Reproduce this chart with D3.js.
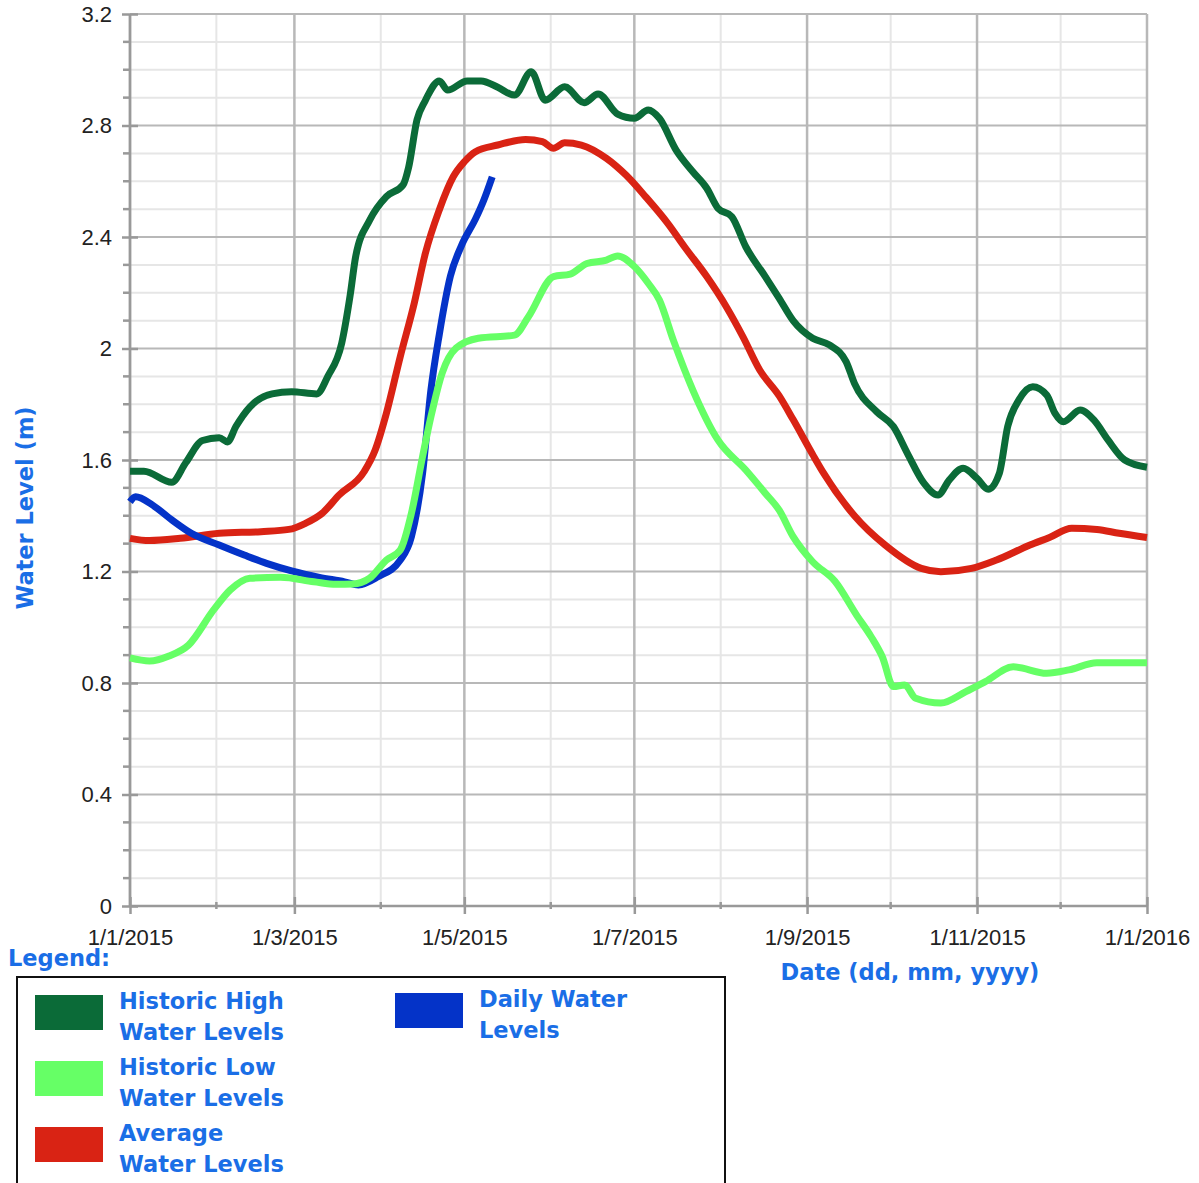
<!DOCTYPE html>
<html>
<head>
<meta charset="utf-8">
<script src="https://cdn.jsdelivr.net/npm/d3@7"></script>
<style>
  body { margin: 0; background: #fff; }
  svg { display: block; }
  .lbl { font-family: "DejaVu Sans", Verdana, sans-serif; font-weight: bold; fill: #1a6ee6; }
  .tick text { font-family: "Liberation Sans", Arial, sans-serif; fill: #222; }
</style>
</head>
<body>
<div id="chart"></div>
<script>
var WIDTH = 1199;
var HEIGHT = 1183;

// historic high water levels
var highDates = ["2015-01-01","2015-01-06","2015-01-16","2015-01-21","2015-01-27","2015-02-02","2015-02-05","2015-02-08",
  "2015-02-13","2015-02-21","2015-02-28","2015-03-09","2015-03-13","2015-03-18","2015-03-21","2015-03-23","2015-03-28",
  "2015-04-03","2015-04-09","2015-04-11","2015-04-14","2015-04-17","2015-04-18","2015-04-22","2015-04-25","2015-05-02",
  "2015-05-07","2015-05-13","2015-05-19","2015-05-25","2015-05-30","2015-06-06","2015-06-13","2015-06-18","2015-06-25",
  "2015-07-01","2015-07-06","2015-07-10","2015-07-16","2015-07-22","2015-07-27","2015-07-31","2015-08-05","2015-08-10",
  "2015-08-17","2015-08-22","2015-08-27","2015-09-03","2015-09-09","2015-09-15","2015-09-18","2015-09-26","2015-10-02",
  "2015-10-07","2015-10-13","2015-10-18","2015-10-22","2015-10-27","2015-11-01","2015-11-05","2015-11-09","2015-11-12",
  "2015-11-16","2015-11-21","2015-11-26","2015-11-29","2015-12-02","2015-12-08","2015-12-13","2015-12-18","2015-12-24",
  "2016-01-01"];
var highValues = [1.56,1.56,1.52,1.59,1.67,1.68,1.665,1.72,
  1.79,1.837,1.845,1.837,1.9,2.02,2.19,2.33,2.46,
  2.545,2.587,2.65,2.82,2.89,2.91,2.96,2.927,2.96,
  2.96,2.937,2.909,2.993,2.891,2.939,2.882,2.913,2.841,
  2.826,2.856,2.826,2.712,2.634,2.575,2.503,2.473,2.365,
  2.258,2.18,2.1,2.037,2.013,1.953,1.875,1.773,1.72,
  1.624,1.516,1.474,1.528,1.57,1.534,1.495,1.552,1.72,
  1.815,1.863,1.833,1.767,1.737,1.779,1.743,1.672,1.6,
  1.574];

// historic low water levels
var lowDates = ["2015-01-01","2015-01-08","2015-01-15","2015-01-22","2015-01-31","2015-02-06","2015-02-13","2015-02-24",
  "2015-03-08","2015-03-16","2015-03-22","2015-03-28","2015-04-03","2015-04-08","2015-04-12","2015-04-16","2015-04-19",
  "2015-04-23","2015-04-28","2015-05-06","2015-05-19","2015-05-24","2015-06-02","2015-06-08","2015-06-14","2015-06-21",
  "2015-06-25","2015-07-01","2015-07-06","2015-07-10","2015-07-15","2015-07-22","2015-07-31","2015-08-10","2015-08-17",
  "2015-08-22","2015-08-27","2015-09-03","2015-09-11","2015-09-19","2015-09-24","2015-09-28","2015-10-02","2015-10-06",
  "2015-10-10","2015-10-19","2015-10-28","2015-11-04","2015-11-14","2015-11-26","2015-12-04","2015-12-14","2016-01-01"];
var lowValues = [0.89,0.879,0.897,0.936,1.062,1.134,1.176,1.179,
  1.163,1.154,1.155,1.176,1.241,1.277,1.409,1.612,1.755,
  1.911,2.001,2.037,2.048,2.114,2.258,2.267,2.305,2.317,
  2.332,2.294,2.234,2.174,2.03,1.851,1.672,1.564,1.481,
  1.42,1.325,1.235,1.165,1.04,0.966,0.894,0.787,0.793,
  0.745,0.728,0.769,0.805,0.858,0.835,0.847,0.873,0.873];

// average water levels
var avgDates = ["2015-01-01","2015-01-08","2015-01-19","2015-02-02","2015-02-17","2015-02-27","2015-03-05","2015-03-11",
  "2015-03-17","2015-03-26","2015-03-30","2015-04-03","2015-04-08","2015-04-13","2015-04-17","2015-04-22","2015-04-27",
  "2015-05-01","2015-05-05","2015-05-13","2015-05-23","2015-05-29","2015-06-02","2015-06-06","2015-06-12","2015-06-21",
  "2015-06-28","2015-07-05","2015-07-13","2015-07-19","2015-07-27","2015-08-03","2015-08-09","2015-08-15","2015-08-22",
  "2015-08-27","2015-09-03","2015-09-07","2015-09-18","2015-09-29","2015-10-12","2015-10-19","2015-10-30","2015-11-08",
  "2015-11-20","2015-11-27","2015-12-05","2015-12-14","2015-12-22","2016-01-01"];
var avgValues = [1.319,1.311,1.319,1.337,1.343,1.351,1.373,1.409,
  1.474,1.558,1.636,1.767,1.971,2.162,2.341,2.497,2.616,
  2.67,2.706,2.73,2.75,2.742,2.718,2.738,2.73,2.682,
  2.622,2.545,2.449,2.365,2.258,2.15,2.042,1.923,1.83,
  1.745,1.62,1.552,1.4,1.295,1.211,1.199,1.211,1.241,
  1.295,1.322,1.355,1.351,1.337,1.322];

// daily water levels
var dailyDates = ["2015-01-01","2015-01-03","2015-01-09","2015-01-16","2015-01-23","2015-02-02","2015-02-11","2015-02-19",
  "2015-02-28","2015-03-10","2015-03-19","2015-03-24","2015-03-31","2015-04-08","2015-04-12","2015-04-16","2015-04-19",
  "2015-04-22","2015-04-26","2015-04-30","2015-05-05","2015-05-08","2015-05-11"];
var dailyValues = [1.45,1.468,1.439,1.385,1.337,1.295,1.259,1.229,
  1.202,1.179,1.163,1.152,1.181,1.241,1.325,1.552,1.851,
  2.05,2.26,2.37,2.465,2.533,2.616];

var yMajorTicks = [0, 0.4, 0.8, 1.2, 1.6, 2, 2.4, 2.8, 3.2];
var xMajorTickLabels = ["1/1/2015","1/3/2015","1/5/2015","1/7/2015","1/9/2015","1/11/2015","1/1/2016"];

var legendItems = [
  { lines: ["Historic High", "Water Levels"], color: "#0b6b38" },
  { lines: ["Historic Low", "Water Levels"], color: "#66ff66" },
  { lines: ["Average", "Water Levels"], color: "#d92314" },
  { lines: ["Daily Water", "Levels"], color: "#0433c8" }
];

var parseDate = d3.timeParse("%Y-%m-%d");
var parseTick = d3.timeParse("%-d/%-m/%Y");

function toPoints(dates, values) {
    return dates.map((d, i) => ({ date: parseDate(d), value: values[i] }));
}

var SVG = d3.select("#chart").append("svg")
    .attr("width", WIDTH)
    .attr("height", HEIGHT);

var X = d3.scaleTime()
    .domain([parseDate("2015-01-01"), parseDate("2016-01-01")])
    .range([130, 1147]);

var Y = d3.scaleLinear()
    .domain([0, 3.2])
    .range([906, 14]);

// grid lines
var minorY = d3.range(0, 3.25, 0.1).map(d => +d.toFixed(1)).filter(d => yMajorTicks.indexOf(d) < 0);
var months = d3.timeMonth.range(X.domain()[0], X.domain()[1]).concat([X.domain()[1]]);
var majorX = xMajorTickLabels.map(parseTick);
var minorX = months.filter(m => !majorX.some(d => +d === +m));

var grid = SVG.append("g");
grid.selectAll("line.minory").data(minorY).enter().append("line")
    .attr("x1", 130).attr("x2", 1147)
    .attr("y1", d => Y(d)).attr("y2", d => Y(d))
    .attr("stroke", "#e6e6e6").attr("stroke-width", 2);
grid.selectAll("line.minorx").data(minorX).enter().append("line")
    .attr("x1", d => X(d)).attr("x2", d => X(d))
    .attr("y1", 14).attr("y2", 906)
    .attr("stroke", "#e6e6e6").attr("stroke-width", 2);
grid.selectAll("line.majory").data(yMajorTicks).enter().append("line")
    .attr("x1", 130).attr("x2", 1147)
    .attr("y1", d => Y(d)).attr("y2", d => Y(d))
    .attr("stroke", "#b8b8b8").attr("stroke-width", 2);
grid.selectAll("line.majorx").data(majorX).enter().append("line")
    .attr("x1", d => X(d)).attr("x2", d => X(d))
    .attr("y1", 14).attr("y2", 906)
    .attr("stroke", "#b8b8b8").attr("stroke-width", 2.5);

// axes
var yAxis = SVG.append("g")
    .attr("transform", "translate(130,0)")
    .call(d3.axisLeft(Y).tickValues(yMajorTicks).tickSize(8).tickPadding(10)
        .tickFormat(d => String(+d.toFixed(1))));
yAxis.selectAll(".tick line").attr("x2", 8).attr("x1", -8);
yAxis.append("g").selectAll("line").data(minorY).enter().append("line")
    .attr("x1", -7).attr("x2", 0)
    .attr("y1", d => Y(d)).attr("y2", d => Y(d));

var xAxis = SVG.append("g")
    .attr("transform", "translate(0,906)")
    .call(d3.axisBottom(X).tickValues(majorX).tickSize(8).tickPadding(15)
        .tickFormat(d3.timeFormat("%-d/%-m/%Y")));
xAxis.selectAll(".tick line").attr("y1", -9).attr("y2", 8);
xAxis.append("g").selectAll("line").data(minorX).enter().append("line")
    .attr("x1", d => X(d)).attr("x2", d => X(d))
    .attr("y1", -4).attr("y2", 3);

[yAxis, xAxis].forEach(ax => {
    ax.selectAll("path.domain").attr("stroke", "#999").attr("stroke-width", 2.5);
    ax.selectAll("line").attr("stroke", "#999").attr("stroke-width", 2.5);
    ax.selectAll("text").attr("font-size", 22).attr("fill", "#222")
        .attr("font-family", "'Liberation Sans', Arial, sans-serif");
});
yAxis.select("path.domain").attr("d", "M0,906V14");
xAxis.select("path.domain").attr("d", "M130,0H1147");

// series
var line = d3.line()
    .x(d => X(d.date))
    .y(d => Y(d.value))
    .curve(d3.curveMonotoneX);

var series = [
    { data: toPoints(highDates, highValues), color: legendItems[0].color },
    { data: toPoints(avgDates, avgValues), color: legendItems[2].color },
    { data: toPoints(dailyDates, dailyValues), color: legendItems[3].color },
    { data: toPoints(lowDates, lowValues), color: legendItems[1].color }
];

SVG.append("g").selectAll("path").data(series).enter().append("path")
    .attr("d", d => line(d.data))
    .attr("fill", "none")
    .attr("stroke", d => d.color)
    .attr("stroke-width", 7)
    .attr("stroke-linejoin", "round")
    .attr("stroke-linecap", "butt");

// axis titles
SVG.append("text").attr("class", "lbl")
    .attr("transform", "translate(33,508) rotate(-90)")
    .attr("text-anchor", "middle")
    .attr("font-size", 22.5)
    .text("Water Level (m)");

SVG.append("text").attr("class", "lbl")
    .attr("x", 910).attr("y", 980)
    .attr("text-anchor", "middle")
    .attr("font-size", 22.5)
    .text("Date (dd, mm, yyyy)");

// legend
SVG.append("text").attr("class", "lbl")
    .attr("x", 8).attr("y", 966)
    .attr("font-size", 22.5)
    .text("Legend:");

SVG.append("rect")
    .attr("x", 17).attr("y", 977)
    .attr("width", 708).attr("height", 220)
    .attr("fill", "none").attr("stroke", "#111").attr("stroke-width", 2);

var legendPos = [
    { x: 35, y: 995 },
    { x: 35, y: 1061 },
    { x: 35, y: 1127 },
    { x: 395, y: 993 }
];

var lg = SVG.append("g").selectAll("g").data(legendItems).enter().append("g")
    .attr("transform", (d, i) => `translate(${legendPos[i].x},${legendPos[i].y})`);
lg.append("rect")
    .attr("width", 68).attr("height", 35)
    .attr("fill", d => d.color);
lg.append("text").attr("class", "lbl")
    .attr("font-size", 22.5)
    .selectAll("tspan").data(d => d.lines).enter().append("tspan")
    .attr("x", 84)
    .attr("y", (d, i) => 14 + i * 31)
    .text(d => d);
</script>
</body>
</html>
